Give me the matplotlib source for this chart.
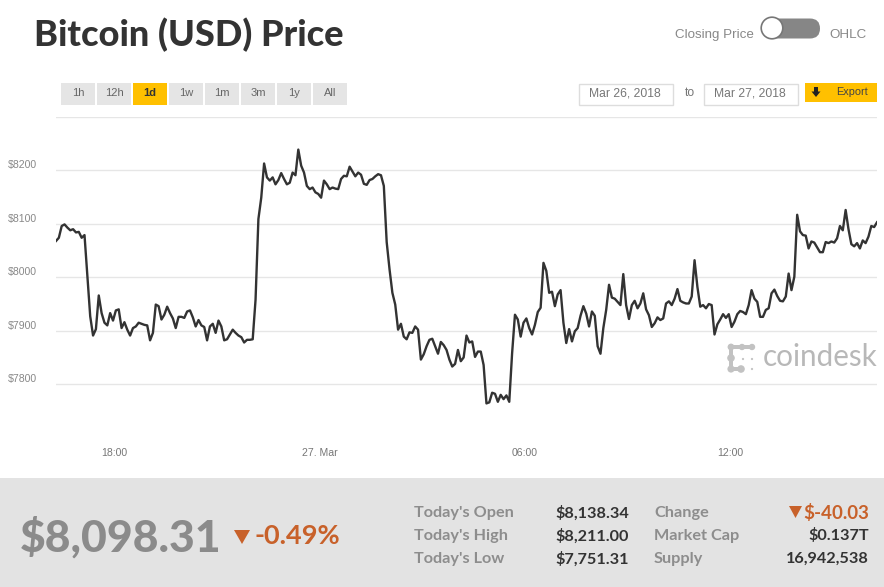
import matplotlib
matplotlib.use("Agg")
import matplotlib.pyplot as plt
from matplotlib.patches import Rectangle, FancyBboxPatch, Circle, Polygon
from matplotlib.transforms import ScaledTranslation
import pandas as pd

prices = [
8068,8074,8096,8099,8093,8088,8090,8084,8085,8074,8079,8002,7927,7891,7903,7966,7933,7915,7910,7933,
7919,7938,7940,7905,7916,7902,7891,7905,7908,7915,7913,7911,7910,7882,7896,7949,7946,7921,7930,7945,
7933,7923,7905,7926,7926,7924,7936,7938,7925,7908,7920,7910,7907,7882,7908,7913,7896,7919,7908,7882,
7884,7893,7902,7896,7891,7888,7878,7883,7883,7884,7958,8109,8149,8213,8187,8181,8187,8174,8182,8195,
8184,8174,8177,8196,8191,8239,8209,8196,8171,8165,8168,8159,8156,8149,8181,8174,8165,8168,8166,8165,
8184,8190,8189,8207,8198,8189,8196,8192,8175,8173,8182,8184,8189,8193,8191,8171,8066,8015,7971,7949,
7902,7913,7889,7884,7897,7896,7908,7902,7846,7856,7871,7883,7885,7871,7857,7879,7873,7864,7846,7833,
7838,7864,7843,7850,7891,7878,7880,7851,7861,7861,7836,7764,7766,7784,7782,7767,7780,7772,7779,7767,
7858,7930,7921,7889,7915,7923,7905,7893,7911,7935,7943,8027,8012,7971,7973,7946,7968,7976,7915,7877,
7903,7880,7899,7905,7928,7946,7932,7908,7936,7928,7871,7857,7905,7939,7986,7962,7960,7954,7948,8006,
7948,7922,7948,7956,7942,7951,7970,7940,7929,7907,7914,7925,7920,7923,7951,7955,7948,7960,7978,7956,
7953,7951,7951,7964,8032,7982,7945,7948,7942,7950,7948,7893,7912,7921,7931,7924,7931,7907,7917,7931,
7937,7935,7931,7948,7976,7960,7954,7926,7926,7939,7942,7970,7977,7965,7956,7955,7964,8007,7976,8001,
8117,8086,8079,8078,8054,8067,8065,8056,8047,8047,8066,8064,8067,8065,8073,8096,8088,8126,8090,8062,
8058,8064,8054,8069,8064,8076,8096,8094,8103]
times = pd.date_range("2018-03-26 16:18", periods=len(prices), freq="5min")

y_ticks = [7800, 7900, 8000, 8100, 8200, 8300]
y_labels = ["$7800", "$7900", "$8000", "$8100", "$8200", ""]
x_ticks = pd.to_datetime(["2018-03-26 18:00", "2018-03-27 00:00", "2018-03-27 06:00", "2018-03-27 12:00"])
x_labels = ["18:00", "27. Mar", "06:00", "12:00"]
range_buttons = ["1h", "12h", "1d", "1w", "1m", "3m", "1y", "All"]
stats_left = [("Today's Open", "$8,138.34"), ("Today's High", "$8,211.00"), ("Today's Low", "$7,751.31")]
stats_right = [("Change", "$-40.03"), ("Market Cap", "$0.137T"), ("Supply", "16,942,538")]

W, H = 884, 587
BOLD = "Lato"
UI = "Liberation Sans"
ORANGE = "#c8612a"
YELLOW = "#ffc000"

fig = plt.figure(figsize=(W / 100, H / 100), dpi=100, facecolor="white")

# chart
top, bottom = 117.0, 437.6
ax = fig.add_axes([56 / W, 1 - bottom / H, (877 - 56) / W, (bottom - top) / H])
ax.plot(times, prices, color="#333333", lw=1.7, solid_joinstyle="round", zorder=3)
ax.set_xlim(times[0], times[-1])
ax.set_ylim(7700, 8300)
for s in ax.spines.values():
    s.set_visible(False)
ax.set_yticks(y_ticks, y_labels)
ax.set_xticks(x_ticks, x_labels)
ax.grid(axis="y", color="#e6e6e6", lw=1.0, zorder=1)
ax.patch.set_alpha(0)
ax.tick_params(axis="y", length=0, pad=34.5, labelsize=7.6, labelcolor="#888888")
ax.tick_params(axis="x", length=0, pad=7.5, labelsize=7.6, labelcolor="#777777")
off = ScaledTranslation(0, 6 / 100, fig.dpi_scale_trans)
for lab in ax.get_yticklabels():
    lab.set_ha("left")
    lab.set_family(UI)
    lab.set_transform(lab.get_transform() + off)
for lab in ax.get_xticklabels():
    lab.set_family(UI)

# overlay in pixel coordinates for the page furniture
fg = fig.add_axes([0, 0, 1, 1], zorder=5)
fg.set_xlim(0, W)
fg.set_ylim(H, 0)
fg.axis("off")

fg.text(34, 35, "Bitcoin (USD) Price", family=BOLD, weight="black", fontsize=26,
        color="#333333", va="center", ha="left")
fg.text(754, 35, "Closing Price", family=UI, fontsize=9.6, color="#888888", va="center", ha="right")
fg.text(829, 35, "OHLC", family=UI, fontsize=9.6, color="#888888", va="center", ha="left")
fg.add_patch(FancyBboxPatch((767, 18.5), 53, 20, boxstyle="round,pad=0,rounding_size=10",
                            mutation_aspect=1, fc="#868686", ec="none"))
fg.add_patch(Circle((772, 28), 10.8, fc="white", ec="#777777", lw=1.2))

for i, b in enumerate(range_buttons):
    x0 = 61 + 36 * i
    active = b == "1d"
    fg.add_patch(Rectangle((x0, 83), 34, 22, fc=YELLOW if active else "#e5e5e5", ec="none"))
    fg.text(x0 + 17, 93.5, b, family=UI, fontsize=8, ha="center", va="center",
            color="#333333" if active else "#666666", weight="bold" if active else "normal")

for x0, d in [(578, "Mar 26, 2018"), (703, "Mar 27, 2018")]:
    fg.add_patch(Rectangle((x0 + .5, 83.5), 94, 21, fc="white", ec="#dddddd", lw=1))
    fg.text(x0 + 47, 93, d, family=UI, fontsize=8.7, color="#777777", ha="center", va="center")
fg.text(689.5, 93, "to", family=UI, fontsize=8.7, color="#777777", ha="center", va="center")
fg.add_patch(Rectangle((805, 83), 72, 19, fc=YELLOW, ec="none"))
fg.add_patch(Rectangle((814.3, 87), 3.4, 5, fc="#222222", ec="none"))
fg.add_patch(Polygon([(811.5, 91.5), (820.5, 91.5), (816, 97)], fc="#222222", ec="none"))
fg.text(852, 92, "Export", family=UI, fontsize=7.8, color="#444444", ha="center", va="center")

# coindesk mark
logo = "#c2c2c2"
for cx, cy, r in [(731, 347, 3.4), (742, 347, 3.2), (752, 347, 3.2), (731, 358, 3.8), (731, 369, 3.6),
                  (741, 369, 3.8), (743, 359, 1.1), (752, 359, 1.1), (752, 369, 1.1)]:
    fg.add_patch(Circle((cx, cy), r, fc=logo, ec="none"))
fg.add_patch(Rectangle((731, 345), 20, 4, fc=logo, ec="none"))
fg.add_patch(Rectangle((729, 347), 4, 22, fc=logo, ec="none"))
fg.add_patch(Rectangle((731, 367), 10, 4, fc=logo, ec="none"))
fg.text(763, 356.5, "coindesk", family="Lato", fontsize=21.3, color="#b8b8b8", va="center", ha="left")

# footer
fg.add_patch(Rectangle((0, 478), W, H - 478, fc="#e3e3e3", ec="none"))
fg.text(20, 537, "$8,098.31", family=BOLD, weight="black", fontsize=32, color="#8b8b8b",
        va="center", ha="left")
fg.add_patch(Polygon([(234, 530), (250, 530), (242, 544)], fc=ORANGE, ec="none"))
fg.text(255, 536, "-0.49%", family=BOLD, weight="bold", fontsize=19.5, color=ORANGE, va="center", ha="left")
for row, (lab, val) in zip((513, 536, 559), stats_left):
    fg.text(414, row, lab, family=BOLD, weight="bold", fontsize=11.7, color="#8d8d8d", va="center", ha="left")
    fg.text(629, row, val, family=BOLD, weight="bold", fontsize=11.7, color="#333333", va="center", ha="right")
for row, (lab, val) in zip((513, 536, 559), stats_right):
    is_change = lab == "Change"
    fg.text(654, row, lab, family=BOLD, weight="bold", fontsize=11.7, color="#8d8d8d", va="center", ha="left")
    fg.text(869, row, val, family=BOLD, weight="bold", fontsize=13.5 if is_change else 11.7,
            color=ORANGE if is_change else "#333333", va="center", ha="right")
fg.add_patch(Polygon([(789, 506), (802, 506), (795.5, 518)], fc=ORANGE, ec="none"))

fig.savefig("out.png", dpi=100, facecolor="white")
